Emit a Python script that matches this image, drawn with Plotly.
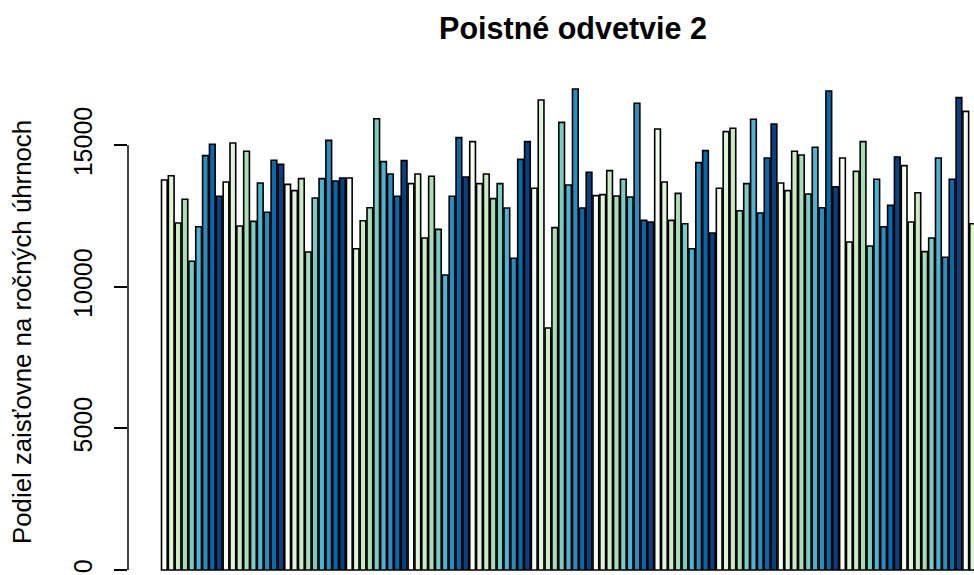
import plotly.graph_objects as go

title = "Poistné odvetvie 2"
ylabel = "Podiel zaisťovne na ročných úhrnoch"

values = [
    13775, 13927, 12256, 13093, 10903, 12126, 14634, 15036, 13199,
    13704, 15082, 12150, 14788, 12315, 13669, 12634, 14470, 14328,
    13622, 13398, 13822, 11232, 13139, 13822, 15176, 13739, 13845,
    13845, 11349, 12338, 12797, 15940, 14423, 13986, 13199, 14458,
    13645, 13986, 11726, 13905, 12032, 10419, 13199, 15270, 13880,
    15129, 13645, 13986, 13116, 13645, 12786, 11009, 14505, 15129,
    13481, 16600, 8547, 12091, 15811, 13598, 16989, 12786, 14046,
    13222, 13257, 14105, 13210, 13799, 13175, 16483, 12350, 12291,
    15576, 13704, 12350, 13304, 12232, 11349, 14387, 14811, 11903,
    13481, 15482, 15600, 12691, 13645, 15918, 12609, 14552, 15752,
    13669, 13398, 14788, 14658, 13280, 14929, 12797, 16918, 13539,
    14552, 11585, 14081, 15129, 11444, 13799, 12126, 12880, 14587,
    14281, 12291, 13327, 11244, 11726, 14552, 11044, 13799, 16683,
    16200, 12232,
]
bars = list(range(1, len(values) + 1))

palette = ["#F7FCF0", "#E0F3DB", "#CCEBC5", "#A8DDB5", "#7BCCC4",
           "#4EB3D3", "#2B8CBE", "#0868AC", "#084081"]
yticks = [0, 5000, 10000, 15000]

colors = [palette[i % len(palette)] for i in range(len(values))]

FONT = "Liberation Sans, Arial, sans-serif"

fig = go.Figure(go.Bar(
    x=bars, y=values,
    marker=dict(color=colors, line=dict(color="black", width=1.6)),
    hoverinfo="skip",
))

W, H = 974, 575
L, R, T, B = 128, 0, 70, 0

fig.update_layout(
    width=W, height=H,
    margin=dict(l=L, r=R, t=T, b=B, autoexpand=False),
    paper_bgcolor="white", plot_bgcolor="white",
    bargap=0.1667,
    showlegend=False,
    font=dict(family=FONT, color="black"),
    title=dict(text="<b>" + title + "</b>", x=573 / W, xanchor="center",
               xref="container", y=1 - 28 / H, yref="container",
               yanchor="middle", font=dict(size=30.5, family=FONT, color="black")),
    xaxis=dict(range=[-4.308, 119.2], visible=False),
    yaxis=dict(range=[-176.6, 17660], tickvals=yticks,
               ticktext=[str(v) for v in yticks],
               ticks="outside", ticklen=13, tickwidth=1.5, tickcolor="black",
               showline=False, showgrid=False, zeroline=False,
               tickangle=-90, ticklabelstandoff=12,
               tickfont=dict(size=25, family=FONT, color="black")),
    shapes=[dict(type="line", xref="paper", yref="y", x0=0, x1=0,
                 y0=yticks[0], y1=yticks[-1],
                 line=dict(color="black", width=1.5))],
    annotations=[dict(text=ylabel, xref="paper", yref="paper",
                      x=(22 - L) / (W - L - R), y=(H - 332) / (H - T - B),
                      xanchor="center", yanchor="middle", textangle=-90,
                      showarrow=False,
                      font=dict(size=25.8, family=FONT, color="black"))],
)

fig.write_html(
    "out.html",
    config={"displayModeBar": False},
    post_script="document.body.style.margin='0';document.body.style.overflow='hidden';",
)
